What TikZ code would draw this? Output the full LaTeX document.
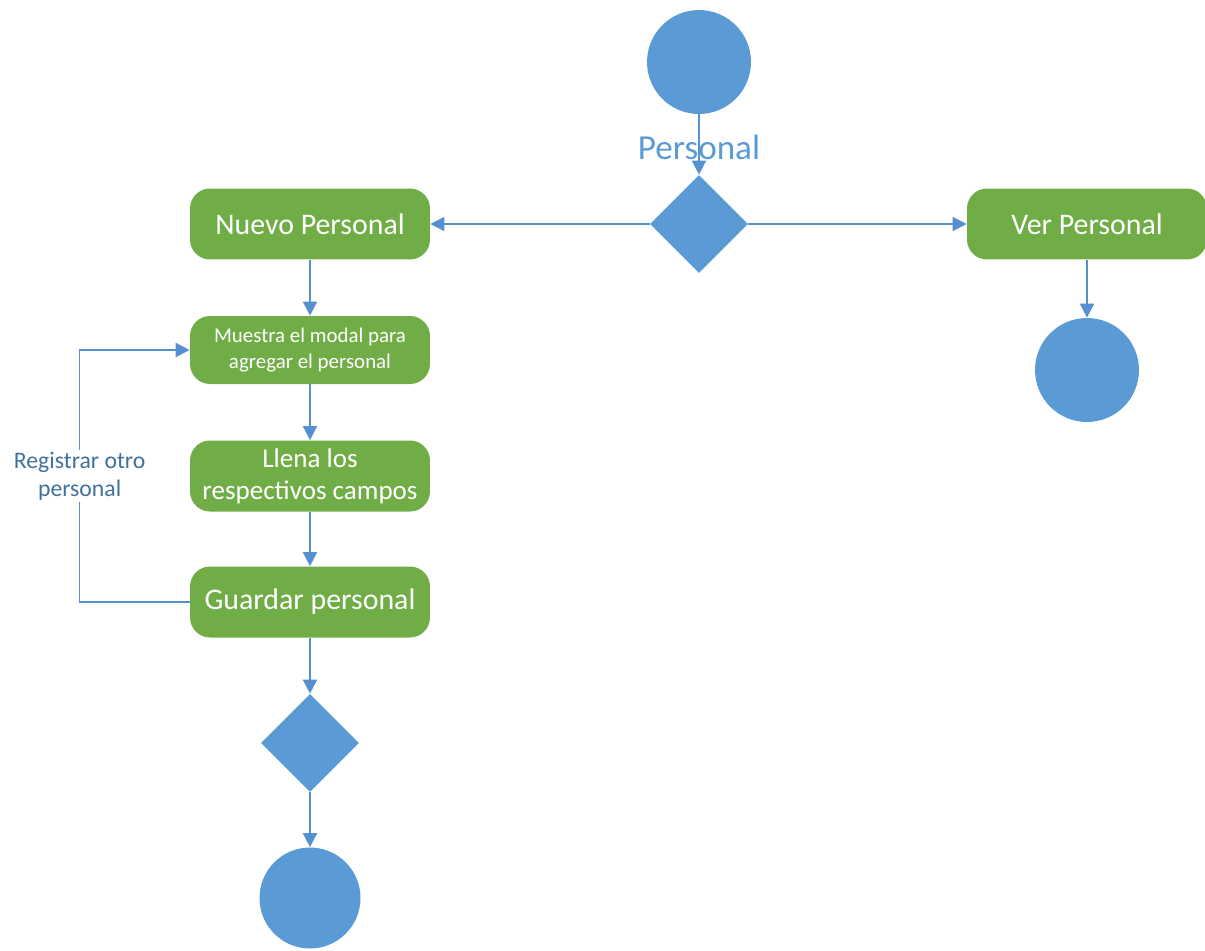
\documentclass[tikz,border=0pt]{standalone}
\usepackage{fontspec}
\setmainfont{Carlito}
\usepackage{tikz}
\usetikzlibrary{shapes,arrows.meta,positioning,calc}

\definecolor{nodeblue}{HTML}{5B9BD5}
\definecolor{lineblue}{HTML}{5590D0}
\definecolor{actgreen}{HTML}{70AD47}
\definecolor{labelblue}{HTML}{41719C}

\tikzset{
    activity/.style={draw=none, fill=actgreen, rounded corners=0.4cm, text=white,
        minimum width=4.8cm, minimum height=1.42cm, align=center, inner sep=2pt},
    endpoint/.style={circle, fill=nodeblue, draw=none, minimum size=2.08cm, inner sep=0pt},
    decision/.style={diamond, fill=nodeblue, draw=none, minimum width=1.96cm,
        minimum height=1.96cm, inner sep=0pt},
    flow/.style={draw=lineblue, line width=0.9pt, -{Triangle[length=8pt,width=8pt]}}
}

\begin{document}
\begin{tikzpicture}[x=0.02cm,y=-0.02cm]
    \useasboundingbox (0,0) rectangle (1205,951);

    % Start and first decision
    \node[endpoint] (start) at (699,62) {};
    \node[decision] (choice) at (699,224) {};
    \draw[flow] (start) -- (choice);
    \node[text=nodeblue, font=\fontsize{20}{24}\selectfont] (title) at (699,147) {Personal};

    % Activities
    \node[activity, font=\fontsize{17}{20}\selectfont] (nuevo) at (310,224) {Nuevo Personal};
    \node[activity, font=\fontsize{17}{20}\selectfont] (ver) at (1087,224) {Ver Personal};
    \node[activity, minimum height=1.36cm, font=\fontsize{11.9}{15}\selectfont] (modal) at (310,350) {Muestra el modal para\\agregar el personal};
    \node[activity, font=\fontsize{15.4}{18}\selectfont] (llena) at (310,476) {Llena los\\respectivos campos};
    \node[activity, font=\fontsize{17}{20}\selectfont] (guardar) at (310,602) {Guardar personal};

    % End points
    \node[endpoint] (finver) at (1087,370) {};
    \node[decision] (merge) at (310,743) {};
    \node[endpoint, minimum size=2.02cm] (finnuevo) at (310,898) {};

    % Flows
    \draw[flow] (choice) -- (nuevo);
    \draw[flow] (choice) -- (ver);
    \draw[flow] (ver) -- (finver);
    \draw[flow] (nuevo) -- (modal);
    \draw[flow] (modal) -- (llena);
    \draw[flow] (llena) -- (guardar);
    \draw[flow] (guardar) -- (merge);
    \draw[flow] (merge) -- (finnuevo);
    \draw[flow] (guardar.west) -- ++(-110,0) |- node[pos=0.25, fill=white, text=labelblue,
        align=center, font=\fontsize{13.5}{16}\selectfont, inner sep=1pt] (otro) {Registrar otro\\personal} (modal.west);
\end{tikzpicture}
\end{document}
